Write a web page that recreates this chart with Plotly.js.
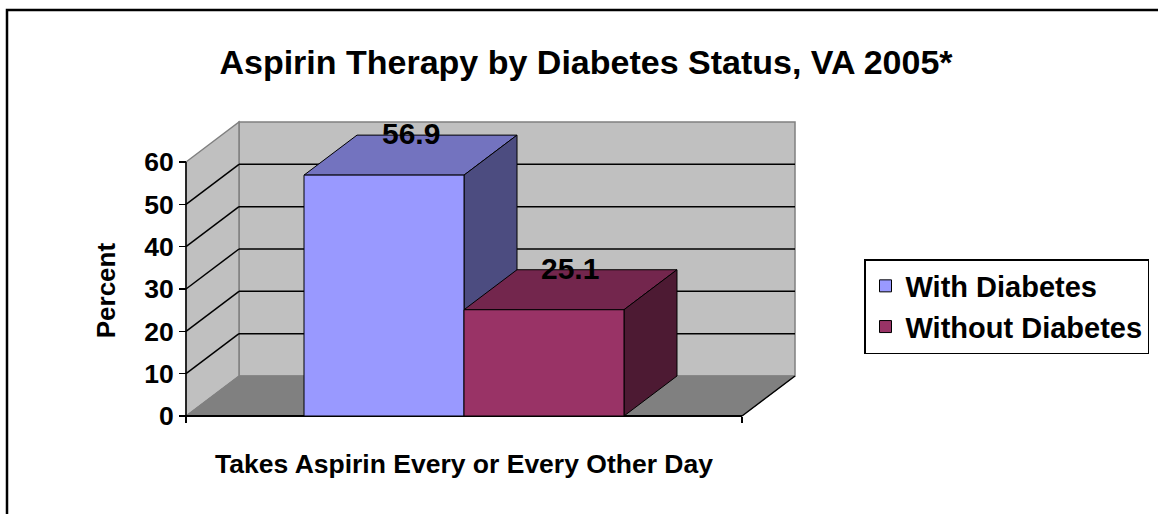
<!DOCTYPE html>
<html>
<head>
<meta charset="utf-8">
<script src="https://cdn.plot.ly/plotly-3.0.1.min.js"></script>
<style>html,body{margin:0;padding:0;background:#fff;}#chart{width:1158px;height:514px;}</style>
</head>
<body>
<div id="chart"></div>
<script>
// ---- data ----
const categories = ["Takes Aspirin Every or Every Other Day"];
const seriesNames = ["With Diabetes", "Without Diabetes"];
const withDiabetes = [56.9];
const withoutDiabetes = [25.1];
const yTicks = [0, 10, 20, 30, 40, 50, 60];
const titleText = "Aspirin Therapy by Diabetes Status, VA 2005*";
const yTitle = "Percent";

// ---- layout geometry (pixels) ----
const W = 1158, H = 514;
const plotL = 176, plotR = 806, plotT = 110, plotB = 426;
const axX = 186, axY = 416;
const pxPerX = 556, pxPerY = 254 / 60;
const DX = 53 / pxPerX, DY = 40 / pxPerY;
const pw = plotR - plotL, ph = plotB - plotT;
const xr = [-0.5 - (axX - plotL) / pxPerX, -0.5 + (plotR - axX) / pxPerX];
const yr = [-(plotB - axY) / pxPerY, (axY - plotT) / pxPerY];
const yMax = yTicks[yTicks.length - 1];
const groupWidth = 0.5755;
const barW = groupWidth / 2;

const FONT = "Liberation Sans, Arial, Helvetica, sans-serif";
const frontColors = ["#9999FF", "#993366"];
const topColors = ["#7373BF", "#73264D"];
const sideColors = ["#4C4C80", "#4D1A33"];
const series = [withDiabetes, withoutDiabetes];

function poly(pts) {
  return "M" + pts.map(p => p[0] + "," + p[1]).join("L") + "Z";
}
function pathShape(pts, fill, lineColor, lw) {
  return {type: "path", xref: "x", yref: "y", layer: "below", path: poly(pts),
          fillcolor: fill, line: {color: lineColor, width: lw}};
}
function lineShape(x0, y0, x1, y1, color, lw) {
  return {type: "line", xref: "x", yref: "y", layer: "below", x0: x0, y0: y0, x1: x1, y1: y1,
          line: {color: color, width: lw}};
}

const L0 = -0.5, R0 = 0.5;
const shapes = [];
// back wall
shapes.push(pathShape([[L0 + DX, DY], [R0 + DX, DY], [R0 + DX, yMax + DY], [L0 + DX, yMax + DY]], "#C0C0C0", "#808080", 1.5));
// side wall
shapes.push(pathShape([[L0, 0], [L0 + DX, DY], [L0 + DX, yMax + DY], [L0, yMax]], "#C0C0C0", "#808080", 1.5));
// floor
shapes.push(pathShape([[L0, 0], [R0, 0], [R0 + DX, DY], [L0 + DX, DY]], "#808080", "#808080", 1));
// gridlines
yTicks.forEach(v => {
  if (v <= 0 || v >= yMax) return;
  shapes.push(lineShape(L0 + DX, v + DY, R0 + DX, v + DY, "#000000", 1.5));
  shapes.push(lineShape(L0, v, L0 + DX, v + DY, "#000000", 1.5));
});
// front axes lines
shapes.push(lineShape(L0, 0, L0, yMax, "#000000", 1.5));
shapes.push(lineShape(L0, 0, R0, 0, "#000000", 2));
shapes.push(lineShape(R0, 0, R0 + DX, DY, "#000000", 1.5));

// bar top & side faces (front faces are bar traces)
series.forEach((vals, i) => {
  vals.forEach((v, c) => {
    const L = c - groupWidth / 2 + i * barW;
    const R = L + barW;
    shapes.push(pathShape([[L, v], [R, v], [R + DX, v + DY], [L + DX, v + DY]], topColors[i], "#000000", 1));
    shapes.push(pathShape([[R, 0], [R, v], [R + DX, v + DY], [R + DX, DY]], sideColors[i], "#000000", 1));
  });
});

// outer frame
shapes.push({type: "rect", xref: "paper", yref: "paper", layer: "above",
  x0: (7 - plotL) / pw, x1: (1175 - plotL) / pw,
  y0: (plotB - 540) / ph, y1: (plotB - 10) / ph,
  line: {color: "#000000", width: 2.5}, fillcolor: "rgba(0,0,0,0)"});

const xs = categories.map((c, i) => i);
const traces = series.map((vals, i) => ({
  type: "bar",
  name: seriesNames[i],
  x: xs,
  y: vals,
  width: xs.map(() => barW),
  offset: xs.map(() => -groupWidth / 2 + i * barW),
  marker: {color: frontColors[i], line: {color: "#000000", width: 1}},
  hoverinfo: "skip"
}));

const annotations = [];
series.forEach((vals, i) => {
  vals.forEach((v, c) => {
    const L = c - groupWidth / 2 + i * barW;
    annotations.push({xref: "x", yref: "y", x: L + barW / 2 + DX / 2, y: v + DY + 0.4,
      text: v.toFixed(1), showarrow: false, xanchor: "center", yanchor: "middle",
      font: {family: FONT, size: 30, color: "#000000", weight: "bold"}});
  });
});
annotations.push({xref: "paper", yref: "y", x: (106 - plotL) / pw, y: yMax / 2 - 0.3,
  text: yTitle, textangle: -90, showarrow: false, xanchor: "center", yanchor: "middle",
  font: {family: FONT, size: 26, color: "#000000", weight: "bold"}});

const layout = {
  width: W, height: H,
  margin: {l: plotL, r: W - plotR, t: plotT, b: H - plotB, pad: 0, autoexpand: false},
  paper_bgcolor: "#FFFFFF",
  plot_bgcolor: "#FFFFFF",
  barmode: "overlay",
  title: {text: titleText, xref: "container", yref: "container", x: 586 / W, y: 1 - 62 / H,
          xanchor: "center", yanchor: "middle",
          font: {family: FONT, size: 34, color: "#000000", weight: "bold"}},
  xaxis: {range: xr, anchor: "free", position: (plotB - axY) / ph,
          showline: false, zeroline: false, showgrid: false,
          tickmode: "array", tickvals: xs, ticktext: categories,
          ticks: "outside", ticklen: 24, tickcolor: "rgba(0,0,0,0)",
          tickfont: {family: FONT, size: 26.5, color: "#000000", weight: "bold"},
          minor: {tickmode: "array", tickvals: [L0, R0], ticks: "outside", ticklen: 6,
                  tickwidth: 1.5, tickcolor: "#000000", showgrid: false},
          fixedrange: true},
  yaxis: {range: yr, anchor: "free", position: (axX - plotL) / pw,
          showline: false, zeroline: false, showgrid: false,
          tickmode: "array", tickvals: yTicks, ticktext: yTicks.map(String),
          ticks: "outside", ticklen: 7, tickwidth: 1.5, tickcolor: "#000000",
          tickfont: {family: FONT, size: 26.5, color: "#000000", weight: "bold"},
          fixedrange: true},
  legend: {x: (864 - plotL) / pw, y: (plotB - 259) / ph, xanchor: "left", yanchor: "top",
           bgcolor: "#FFFFFF", bordercolor: "#000000", borderwidth: 1.5,
           font: {family: FONT, size: 29, color: "#000000", weight: "bold"},
           traceorder: "normal"},
  shapes: shapes,
  annotations: annotations,
  showlegend: true
};

Plotly.newPlot("chart", traces, layout, {staticPlot: true, displayModeBar: false});
</script>
</body>
</html>
